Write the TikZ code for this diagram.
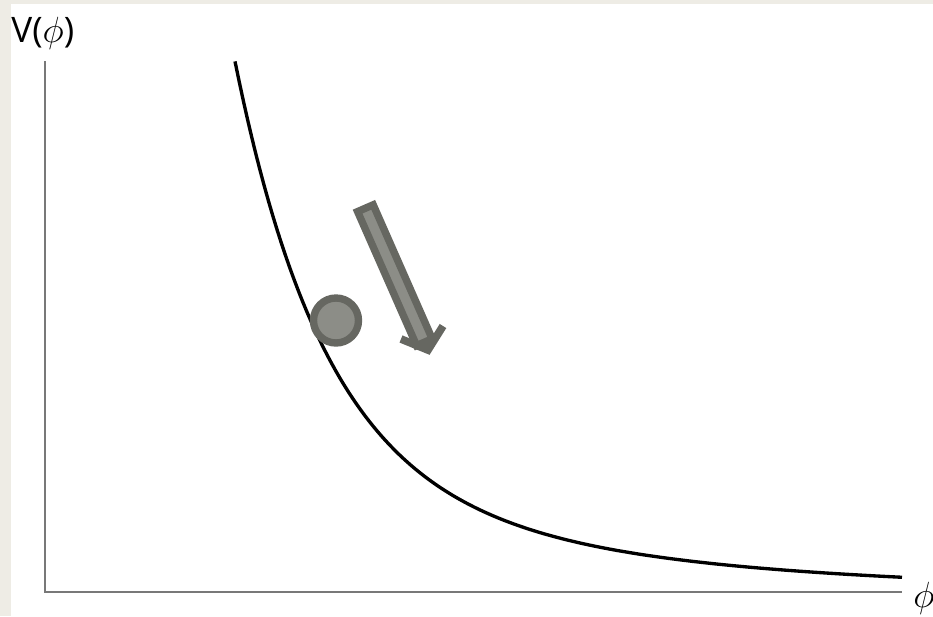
\documentclass[tikz,border=0pt]{standalone}
\usepackage{fontspec}
\newfontfamily\labelfont{Open Sans}
\usetikzlibrary{positioning}
\definecolor{paper}{RGB}{238,236,229}
\definecolor{axisgray}{RGB}{120,120,120}
\definecolor{balldark}{RGB}{102,103,97}
\definecolor{balllight}{RGB}{140,141,135}

\begin{document}
\begin{tikzpicture}[x=0.02cm, y=-0.02cm,
    font=\labelfont\fontsize{20}{24}\selectfont,
    axisline/.style={axisgray, line width=1.4pt, line join=miter},
    potential/.style={black, line width=1.9pt},
    thing/.style={balldark, fill=balllight, line width=4.2pt, line join=miter}]
  % ---------- frame ----------
  \fill[paper] (0,0) rectangle (933,616);
  \fill[white] (11,4) rectangle (933,616);
  \useasboundingbox (0,0) rectangle (933,616);
  \clip (0,0) rectangle (933,616);
  % ---------- axes ----------
  \draw[axisline] (45,61) -- (45,592) -- (902,592);
  \node[anchor=base west, inner sep=0] (vlabel) at (11,42) {V($\phi$)};
  \node[anchor=base west, inner sep=0] (philabel) at (913,607) {$\phi$};
  % ---------- potential V(phi): two decaying exponentials ----------
  \draw[potential] plot[domain=235:902, samples=160]
      (\x, {592 - 411*exp(-(\x-235)/90) - 119.6*exp(-(\x-235)/316)});
  % ---------- rolling field ----------
  \draw[thing] (336,320.5) circle (22.5);
  % ---------- direction of roll ----------
  \draw[thing] (357.6,211.6) -- (373.2,204.8) -- (432.2,338.8)
      -- (416.6,345.6) -- cycle;
  \draw[balldark, line width=4.4pt, line join=miter]
      (401,339) -- (428,350) -- (443,326);
\end{tikzpicture}
\end{document}
